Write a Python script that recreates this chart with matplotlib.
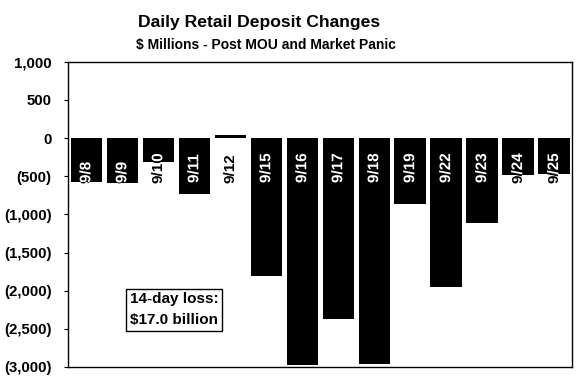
import matplotlib.pyplot as plt
import matplotlib.patheffects as pe
from matplotlib.ticker import FuncFormatter

plt.rcParams['font.family'] = ['Liberation Sans', 'DejaVu Sans']

# daily retail deposit changes, $ millions
dates = ['9/8', '9/9', '9/10', '9/11', '9/12', '9/15', '9/16',
         '9/17', '9/18', '9/19', '9/22', '9/23', '9/24', '9/25']
changes = [-580, -594, -318, -738, 40, -1808, -2975,
           -2372, -2962, -869, -1949, -1110, -480, -465]
yticks = [1000, 500, 0, -500, -1000, -1500, -2000, -2500, -3000]


def paren_fmt(v, pos):
    if v < 0:
        return '({:,.0f})'.format(-v)
    return '{:,.0f}'.format(v)


fig = plt.figure(figsize=(5.81, 3.90), dpi=100)
ax = fig.add_axes([0.1176, 0.059, 0.867, 0.7828])

x = range(len(dates))
bars = ax.bar(x, changes, width=0.87, color='black', edgecolor='none')

# date labels: black where they hang below a bar, white inside the bar
# (path effect makes the text render as a path so the clip to the bar works)
for xi, d, b in zip(x, dates, bars):
    ax.text(xi, -590, d, rotation=90, ha='center', va='bottom',
            fontsize=11, fontweight='bold', color='black', zorder=3)
    t = ax.text(xi, -590, d, rotation=90, ha='center', va='bottom',
                fontsize=11, fontweight='bold', color='white', zorder=4,
                path_effects=[pe.Normal()], clip_on=True)
    t.set_clip_path(b)

ax.set_xlim(-0.5, len(dates) - 0.5)
ax.set_ylim(-3000, 1000)
ax.set_yticks(yticks)
ax.yaxis.set_major_formatter(FuncFormatter(paren_fmt))
ax.set_xticks([])
ax.tick_params(axis='y', length=3, width=0.8, pad=9)
for lbl in ax.get_yticklabels():
    lbl.set_fontweight('bold')
    lbl.set_fontsize(10.8)
for s in ax.spines.values():
    s.set_linewidth(1.0)

ax.text(0.122, 0.187, '14-day loss:\n$17.0 billion', transform=ax.transAxes,
        fontsize=11, fontweight='bold', ha='left', va='center', linespacing=1.65,
        bbox=dict(boxstyle='square,pad=0.22', facecolor='white',
                  edgecolor='black', linewidth=1.0))

fig.text(0.446, 0.942, 'Daily Retail Deposit Changes', ha='center', va='center',
         fontsize=12.6, fontweight='bold')
fig.text(0.458, 0.884, '$ Millions - Post MOU and Market Panic', ha='center',
         va='center', fontsize=10, fontweight='bold')

fig.savefig('out.png', dpi=100)
